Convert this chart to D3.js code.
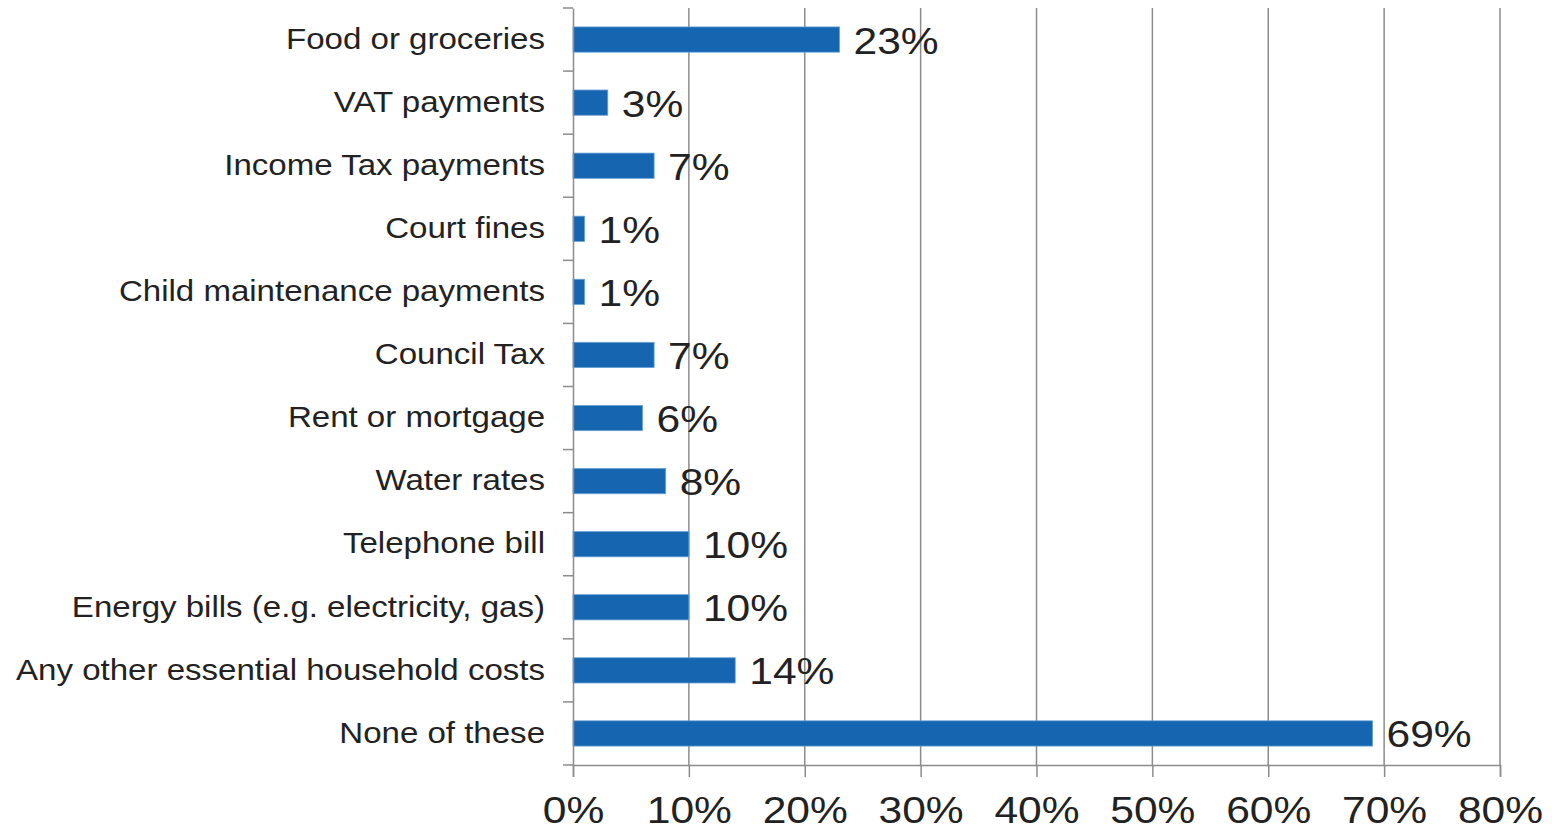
<!DOCTYPE html>
<html>
<head>
<meta charset="utf-8">
<script src="https://cdn.jsdelivr.net/npm/d3@7"></script>
<style>
  html, body { margin: 0; padding: 0; background: #fff; }
  svg { display: block; }
  text { font-family: "Liberation Sans", Arial, sans-serif; fill: #222; }
</style>
</head>
<body>
<script>
// Categories, top to bottom
const categories = [
  "Food or groceries",
  "VAT payments",
  "Income Tax payments",
  "Court fines",
  "Child maintenance payments",
  "Council Tax",
  "Rent or mortgage",
  "Water rates",
  "Telephone bill",
  "Energy bills (e.g. electricity, gas)",
  "Any other essential household costs",
  "None of these"
];

// Share of respondents (%)
const values = [23, 3, 7, 1, 1, 7, 6, 8, 10, 10, 14, 69];

// Horizontal axis ticks (%)
const xTicks = [0, 10, 20, 30, 40, 50, 60, 70, 80];

const width = 1552, height = 834;
const margin = { top: 8, right: 52, bottom: 69, left: 573 };
const stretch = 1.15;      // numbers are set slightly wide
const labelStretch = 1.14; // category names

const svg = d3.select("body").append("svg")
  .attr("width", width)
  .attr("height", height);

const x = d3.scaleLinear()
  .domain([0, 80])
  .range([margin.left, width - margin.right]);

const y = d3.scaleBand()
  .domain(categories)
  .range([margin.top, height - margin.bottom])
  .paddingInner(0.6)
  .paddingOuter(0.3);

const yOuter = d3.scaleBand()
  .domain(categories)
  .range([margin.top, height - margin.bottom]);

const axisColor = "#8c8c8c";

// Vertical gridlines
svg.append("g")
  .selectAll("line")
  .data(xTicks.filter(d => d > 0))
  .join("line")
  .attr("x1", d => x(d)).attr("x2", d => x(d))
  .attr("y1", margin.top).attr("y2", height - margin.bottom)
  .attr("stroke", axisColor)
  .attr("stroke-width", 1.5);

// Bars
svg.append("g")
  .selectAll("rect")
  .data(categories)
  .join("rect")
  .attr("x", x(0))
  .attr("y", d => y(d))
  .attr("width", (d, i) => x(values[i]) - x(0))
  .attr("height", y.bandwidth())
  .attr("fill", "#1565b0")
  .attr("stroke", "#6aa0d6")
  .attr("stroke-width", 0.8);

// Value labels
svg.append("g")
  .selectAll("text")
  .data(categories)
  .join("text")
  .attr("transform", (d, i) =>
    `translate(${x(values[i]) + 14},${y(d) + y.bandwidth() / 2 + 14}) scale(${stretch},1)`)
  .attr("font-size", 37)
  .text((d, i) => values[i] + "%");

// Left axis with category labels
const yAxis = d3.axisLeft(yOuter)
  .tickSize(0)
  .tickPadding(0);

const gy = svg.append("g")
  .attr("transform", `translate(${margin.left},0)`)
  .call(yAxis);
gy.select(".domain").attr("stroke", axisColor).attr("stroke-width", 1.5);
gy.selectAll(".tick text")
  .attr("x", -28 / labelStretch)
  .attr("transform", `scale(${labelStretch},1)`)
  .attr("font-size", 29)
  .attr("font-family", "Liberation Sans, Arial, sans-serif")
  .attr("fill", "#222");

// Tick marks on the category boundaries
const bounds = categories.map(c => yOuter(c)).concat([height - margin.bottom]);
svg.append("g")
  .selectAll("line")
  .data(bounds)
  .join("line")
  .attr("x1", margin.left - 10).attr("x2", margin.left)
  .attr("y1", d => d).attr("y2", d => d)
  .attr("stroke", axisColor)
  .attr("stroke-width", 1.5);

// Bottom axis
const xAxis = d3.axisBottom(x)
  .tickValues(xTicks)
  .tickFormat(d => d + "%")
  .tickSize(12)
  .tickPadding(20);

const gx = svg.append("g")
  .attr("transform", `translate(0,${height - margin.bottom})`)
  .call(xAxis);
gx.select(".domain").attr("stroke", axisColor).attr("stroke-width", 1.5);
gx.selectAll(".tick line").attr("stroke", axisColor).attr("stroke-width", 1.5);
gx.selectAll(".tick text")
  .attr("transform", `scale(${stretch},1)`)
  .attr("x", 0)
  .attr("font-size", 37)
  .attr("font-family", "Liberation Sans, Arial, sans-serif")
  .attr("fill", "#222");
</script>
</body>
</html>
